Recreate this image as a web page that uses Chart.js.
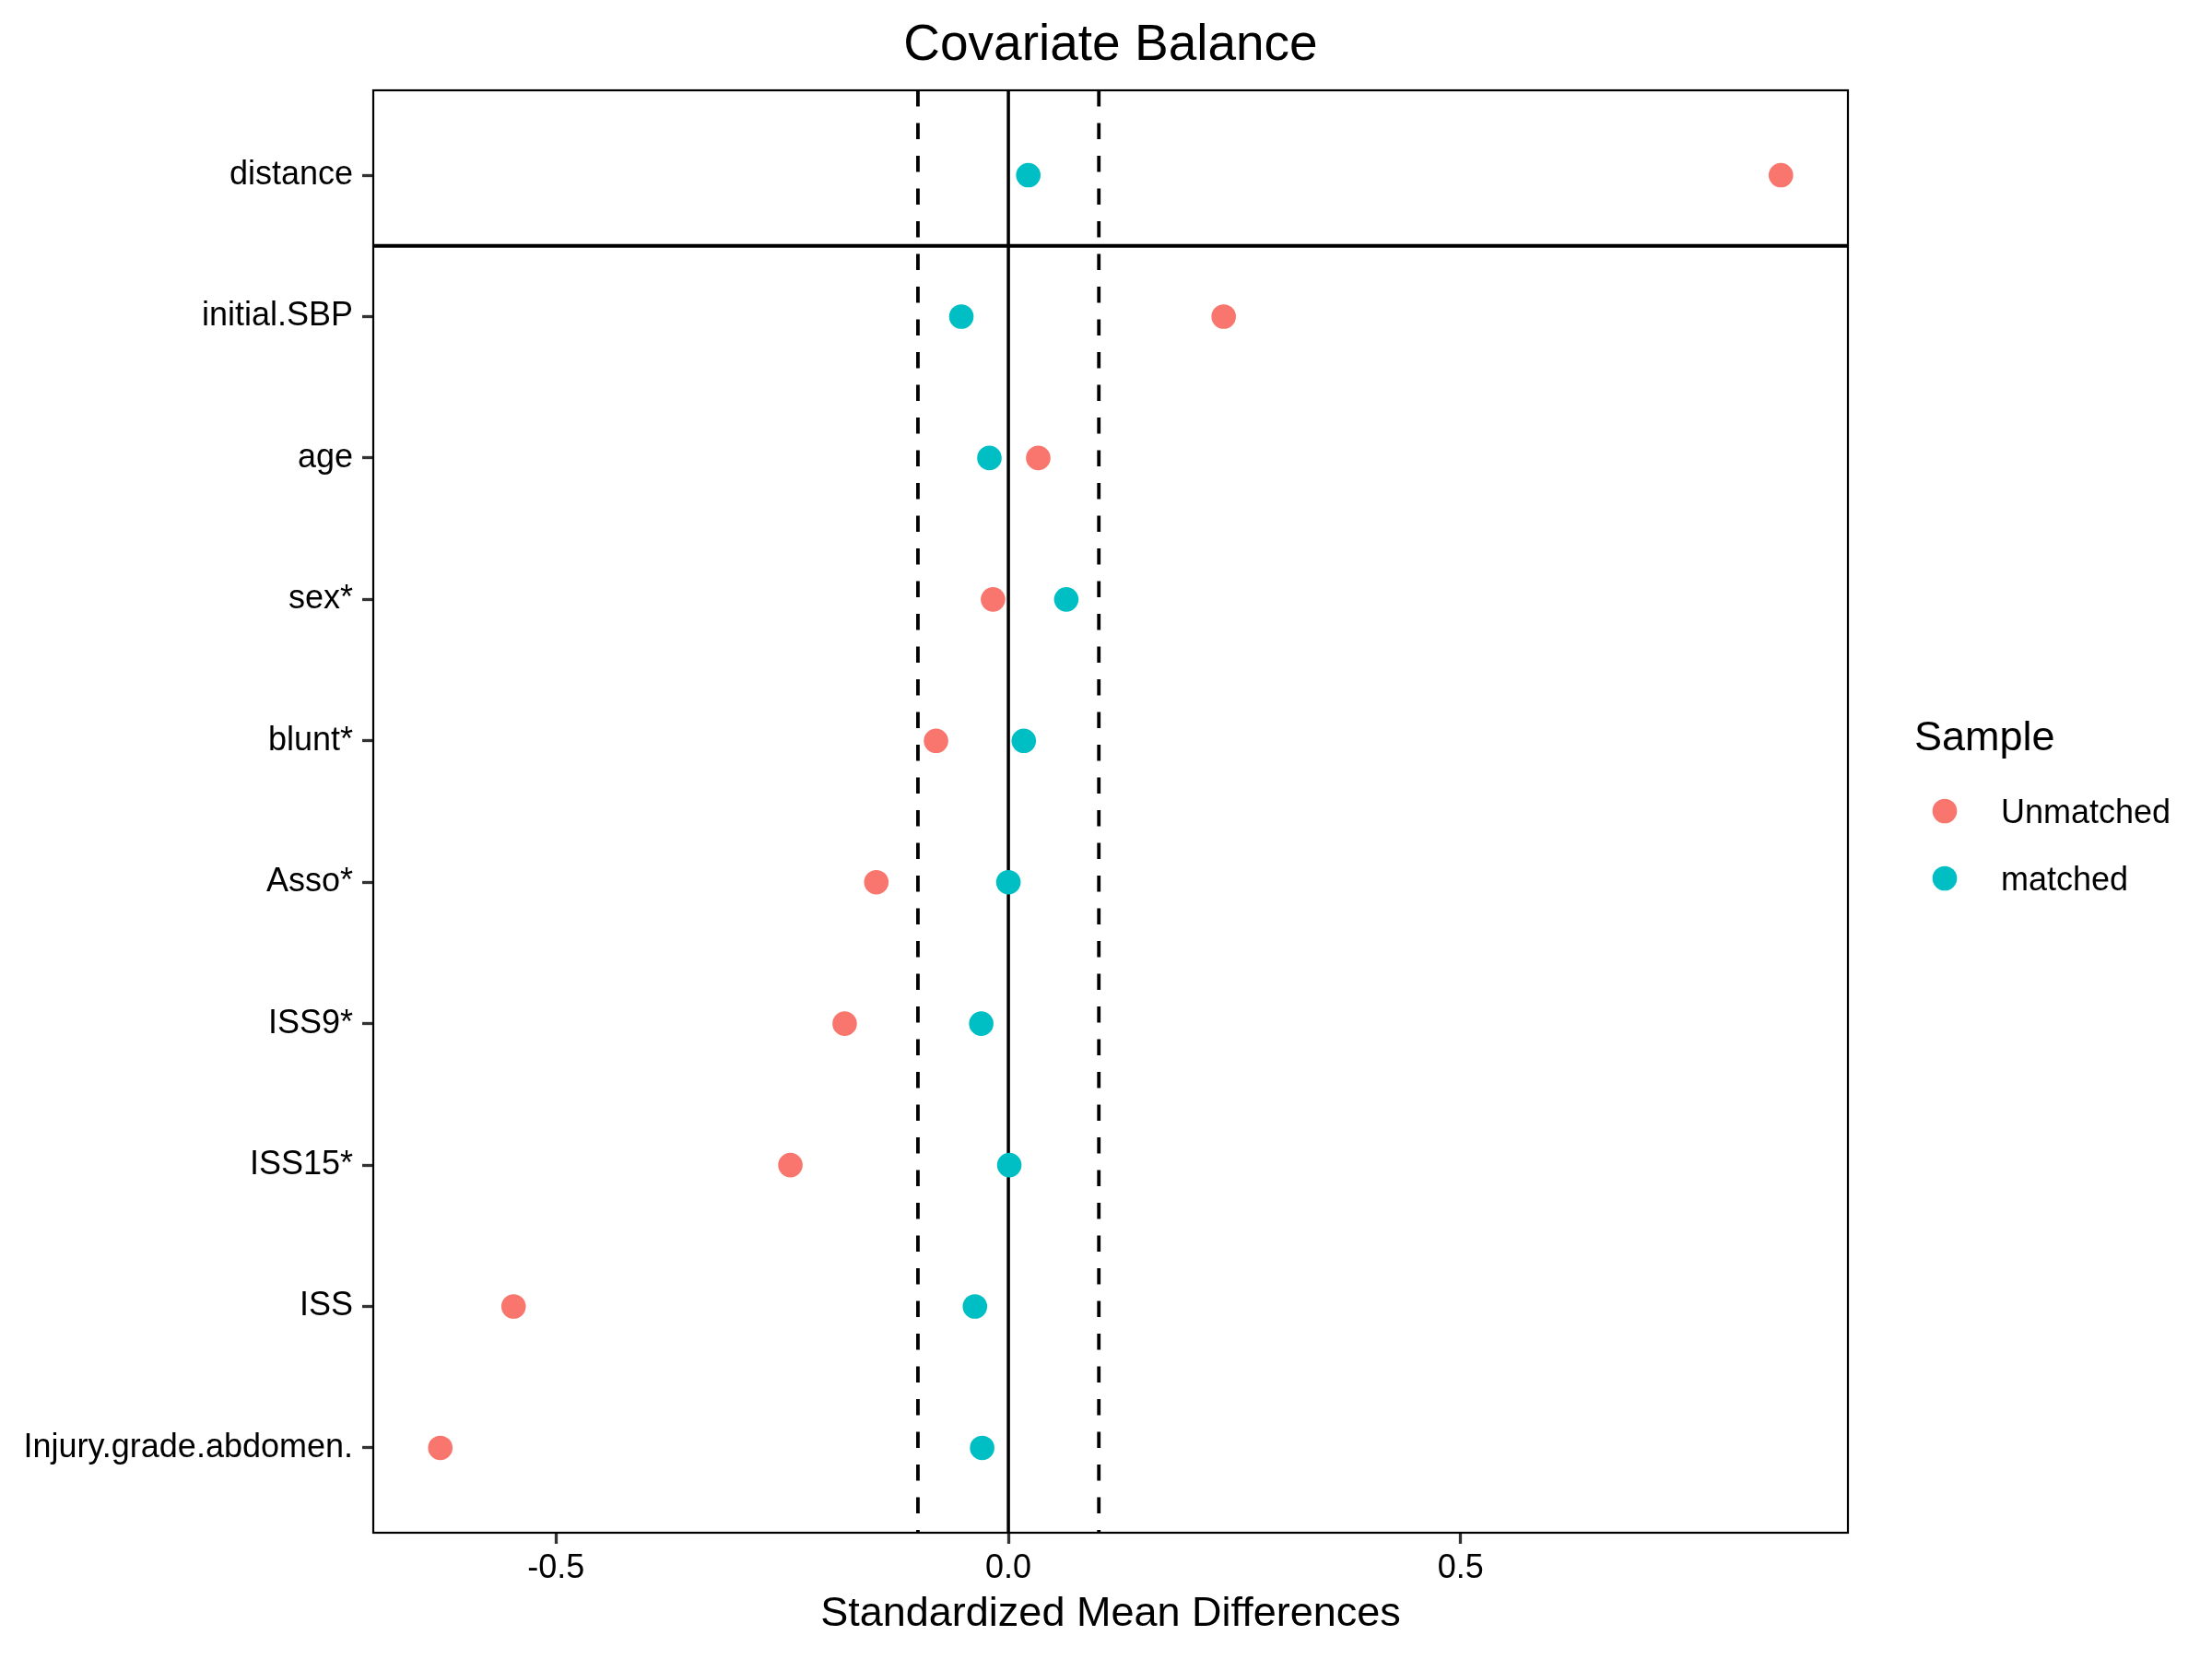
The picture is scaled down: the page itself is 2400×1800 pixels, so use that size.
<!DOCTYPE html>
<html>
<head>
<meta charset="utf-8">
<title>Covariate Balance</title>
<script src="https://cdn.jsdelivr.net/npm/chart.js@4.4.1/dist/chart.umd.min.js"></script>
<style>
  html, body { margin: 0; padding: 0; background: #fff; }
  canvas { display: block; }
</style>
</head>
<body>
<canvas id="balanceChart" width="2400" height="1800"></canvas>
<script>
// Covariates, top to bottom
const covariates = ['distance', 'initial.SBP', 'age', 'sex*', 'blunt*', 'Asso*', 'ISS9*', 'ISS15*', 'ISS', 'Injury.grade.abdomen.'];

// Standardized mean differences per sample
const unmatched = [0.854, 0.238, 0.033, -0.017, -0.080, -0.146, -0.181, -0.241, -0.547, -0.628];
const matched = [0.022, -0.052, -0.021, 0.064, 0.017, 0.000, -0.030, 0.001, -0.037, -0.029];

// Axis ticks and reference lines
const xTicks = [-0.5, 0.0, 0.5];
const thresholdLines = [-0.1, 0.1];
const zeroLine = 0;
const separatorAfter = 1; // line drawn below the first covariate

const FONT = "'Liberation Sans', Arial, Helvetica, sans-serif";

function toPoints(values) {
    return values.map((v, i) => ({ x: v, y: i + 1 }));
}

// ggplot-like 5% expansion of the x range
const allValues = unmatched.concat(matched);
const xLo = Math.min(...allValues);
const xHi = Math.max(...allValues);
const xPad = (xHi - xLo) * 0.05;

// Reference lines, behind the points
const refLines = {
    id: 'refLines',
    beforeDatasetsDraw(chart) {
        const { ctx, chartArea, scales } = chart;
        ctx.save();
        ctx.strokeStyle = '#000';

        ctx.lineWidth = 3.8;
        ctx.setLineDash([17.5, 18]);
        thresholdLines.forEach(v => {
            const px = scales.x.getPixelForValue(v);
            ctx.beginPath();
            ctx.moveTo(px, chartArea.top);
            ctx.lineTo(px, chartArea.bottom);
            ctx.stroke();
        });

        ctx.setLineDash([]);
        ctx.lineWidth = 3.5;
        const zx = scales.x.getPixelForValue(zeroLine);
        ctx.beginPath();
        ctx.moveTo(zx, chartArea.top);
        ctx.lineTo(zx, chartArea.bottom);
        ctx.stroke();

        ctx.lineWidth = 3.8;
        const sy = scales.y.getPixelForValue(separatorAfter + 0.5);
        ctx.beginPath();
        ctx.moveTo(chartArea.left, sy);
        ctx.lineTo(chartArea.right, sy);
        ctx.stroke();
        ctx.restore();
    }
};

// Panel border on top
const panelBorder = {
    id: 'panelBorder',
    afterDatasetsDraw(chart) {
        const { ctx, chartArea } = chart;
        ctx.save();
        ctx.strokeStyle = '#000';
        ctx.lineWidth = 2.2;
        ctx.strokeRect(chartArea.left, chartArea.top, chartArea.right - chartArea.left, chartArea.bottom - chartArea.top);
        ctx.restore();
    }
};

// Legend on the right, ggplot style
const sampleLegend = {
    id: 'sampleLegend',
    afterDraw(chart) {
        const { ctx } = chart;
        const left = 2077;
        ctx.save();
        ctx.fillStyle = '#000';
        ctx.textAlign = 'left';
        ctx.textBaseline = 'alphabetic';
        ctx.font = `45px ${FONT}`;
        ctx.fillText('Sample', left, 814);

        chart.data.datasets.forEach((ds, i) => {
            const cy = 880 + i * 73;
            ctx.beginPath();
            ctx.fillStyle = ds.backgroundColor;
            ctx.arc(2110, cy, 13.3, 0, Math.PI * 2);
            ctx.fill();
            ctx.fillStyle = '#000';
            ctx.font = `36px ${FONT}`;
            ctx.fillText(ds.label, 2171, cy + 13);
        });
        ctx.restore();
    }
};

const chart = new Chart(document.getElementById('balanceChart'), {
    type: 'scatter',
    data: {
        datasets: [
            {
                label: 'Unmatched',
                data: toPoints(unmatched),
                backgroundColor: '#F8766D',
                borderWidth: 0,
                pointRadius: 13.3,
                pointHoverRadius: 13.3
            },
            {
                label: 'matched',
                data: toPoints(matched),
                backgroundColor: '#00BFC4',
                borderWidth: 0,
                pointRadius: 13.3,
                pointHoverRadius: 13.3
            }
        ]
    },
    plugins: [refLines, panelBorder, sampleLegend],
    options: {
        responsive: false,
        animation: false,
        devicePixelRatio: 1,
        layout: {
            padding: { top: 0, left: 0, right: 395, bottom: 0 }
        },
        plugins: {
            legend: { display: false },
            tooltip: { enabled: false },
            title: {
                display: true,
                text: 'Covariate Balance',
                color: '#000',
                fullSize: false,
                font: { family: FONT, size: 55, weight: 'normal' },
                padding: { top: 17, bottom: 15 }
            }
        },
        scales: {
            x: {
                type: 'linear',
                min: xLo - xPad,
                max: xHi + xPad,
                afterBuildTicks: (scale) => {
                    scale.ticks = xTicks.map(v => ({ value: v }));
                },
                afterFit: (scale) => {
                    scale.height = 137;
                },
                ticks: {
                    color: '#000',
                    font: { family: FONT, size: 36 },
                    padding: 5,
                    autoSkip: false,
                    maxRotation: 0,
                    callback: (v) => v.toFixed(1)
                },
                grid: {
                    drawOnChartArea: false,
                    drawTicks: true,
                    tickLength: 12,
                    tickColor: '#333333',
                    tickWidth: 3.3
                },
                border: { display: false },
                title: {
                    display: true,
                    text: 'Standardized Mean Differences',
                    color: '#000',
                    font: { family: FONT, size: 45 },
                    padding: { top: 0, bottom: 21 }
                }
            },
            y: {
                type: 'linear',
                reverse: true,
                min: 0.4,
                max: covariates.length + 0.6,
                afterBuildTicks: (scale) => {
                    scale.ticks = covariates.map((c, i) => ({ value: i + 1 }));
                },
                afterFit: (scale) => {
                    scale.width = 405;
                },
                ticks: {
                    color: '#000',
                    font: { family: FONT, size: 36 },
                    padding: 10,
                    autoSkip: false,
                    callback: (v) => covariates[v - 1]
                },
                grid: {
                    drawOnChartArea: false,
                    drawTicks: true,
                    tickLength: 12,
                    tickColor: '#333333',
                    tickWidth: 3.3
                },
                border: { display: false }
            }
        }
    }
});
</script>
</body>
</html>
